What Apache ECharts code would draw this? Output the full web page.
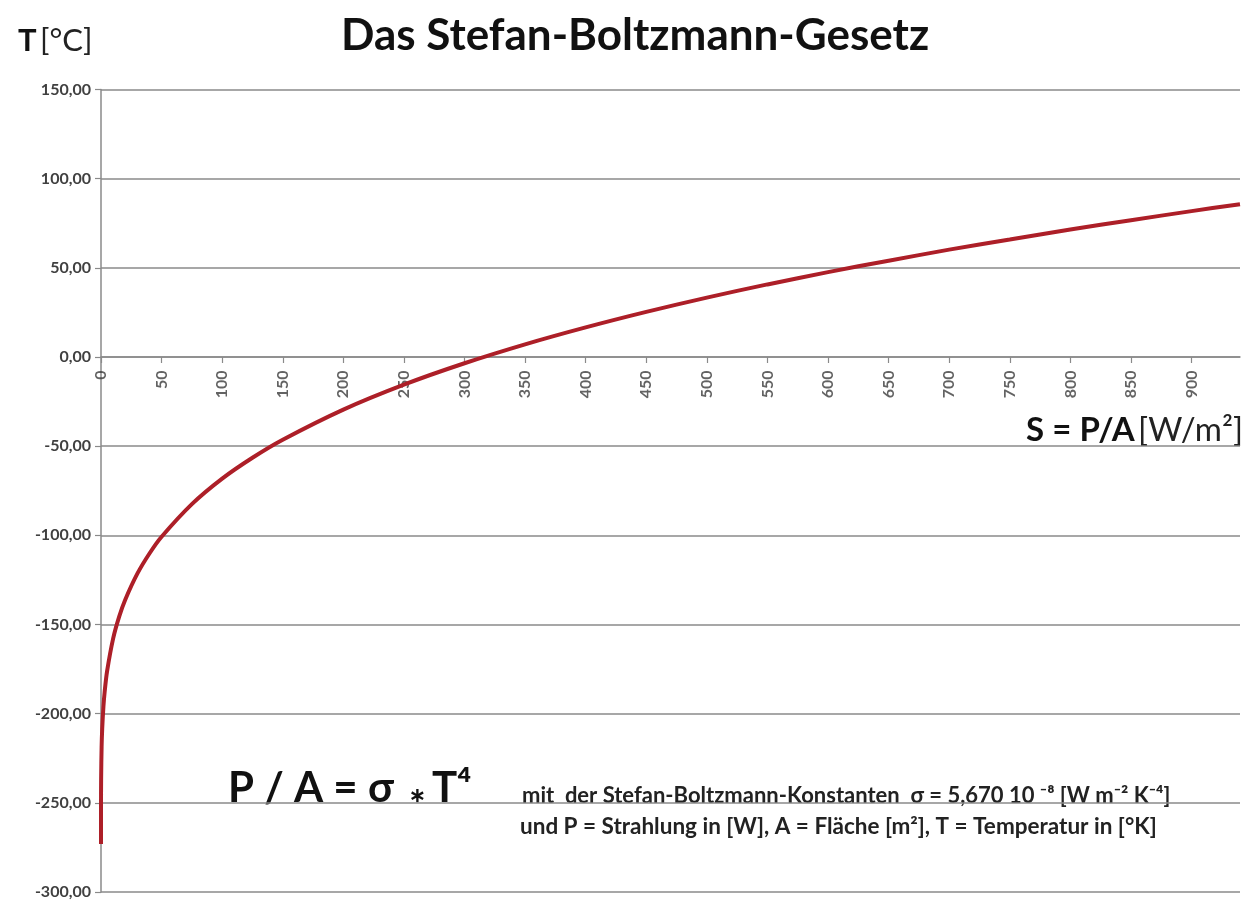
<!DOCTYPE html>
<html>
<head>
<meta charset="utf-8">
<script src="https://cdn.jsdelivr.net/npm/echarts@6/dist/echarts.min.js"></script>
<style>
html,body{margin:0;padding:0;background:#fff;}
#chart{width:1249px;height:902px;}
</style>
</head>
<body>
<div id="chart"></div>
<script>
// Radiation flux S = P/A [W/m²] (x) and temperature T [°C] (y)
const fluxValues = [0, 0.001, 0.01, 0.1, 0.5, 1, 2, 3, 5, 10, 15, 20, 30, 40, 50, 75, 100, 125, 150, 200, 250, 300, 350, 400, 450, 500, 550, 600, 650, 700, 750, 800, 850, 900, 940];
const tempValues = [-273.15, -261.6, -252.7, -236.7, -218.7, -208.4, -196.1, -187.9, -176.3, -157.9, -145.6, -136.1, -121.5, -110.2, -100.8, -82.5, -68.2, -56.5, -46.4, -29.5, -15.5, -3.5, 7.1, 16.6, 25.3, 33.3, 40.7, 47.6, 54.0, 60.2, 65.9, 71.5, 76.7, 81.8, 85.7];
const xTicks = [0, 50, 100, 150, 200, 250, 300, 350, 400, 450, 500, 550, 600, 650, 700, 750, 800, 850, 900];
const yTicks = [-300, -250, -200, -150, -100, -50, 0, 50, 100, 150];

const chart = echarts.init(document.getElementById('chart'), null, {renderer: 'canvas'});
const seriesData = fluxValues.map((s, i) => [s, tempValues[i]]);
const tickLabelData = xTicks.map(v => [v, 0]);
const FONT = 'Lato, "Open Sans", sans-serif';

chart.setOption({
  backgroundColor: '#ffffff',
  animation: false,
  grid: {left: 101, right: 9, top: 89.5, bottom: 10, containLabel: false, outerBoundsMode: 'none'},
  xAxis: {
    type: 'value',
    min: 0,
    max: 940,
    interval: 50,
    axisLine: {show: true, onZero: true, lineStyle: {color: '#8a8a8a', width: 1.5}},
    axisTick: {show: true, length: 6, customValues: xTicks, lineStyle: {color: '#8a8a8a', width: 1.2}},
    axisLabel: {show: false},
    splitLine: {show: false}
  },
  yAxis: {
    type: 'value',
    min: -300,
    max: 150,
    interval: 50,
    axisLine: {show: true, onZero: false, lineStyle: {color: '#8a8a8a', width: 1.5}},
    axisTick: {show: true, length: 6, lineStyle: {color: '#8a8a8a', width: 1.2}},
    axisLabel: {
      margin: 10,
      fontSize: 16,
      fontWeight: 'bold',
      color: '#404040',
      fontFamily: FONT,
      formatter: v => v.toFixed(2).replace('.', ',')
    },
    splitLine: {show: true, lineStyle: {color: '#8a8a8a', width: 1.5}}
  },
  series: [{
    type: 'line',
    data: seriesData,
    smooth: 0.3,
    symbol: 'none',
    lineStyle: {color: '#ad1f28', width: 4},
    z: 5
  }, {
    // x-axis tick labels placed on the zero line
    type: 'scatter',
    data: tickLabelData,
    symbolSize: 1,
    itemStyle: {color: 'rgba(0,0,0,0)'},
    silent: true,
    clip: false,
    z: 3,
    label: {
      show: true,
      position: 'bottom',
      distance: 13,
      rotate: 90,
      align: 'right',
      verticalAlign: 'middle',
      fontSize: 16,
      fontWeight: 700,
      color: '#3c3c3c',
      fontFamily: FONT,
      formatter: p => String(p.value[0])
    },
    labelLayout: {hideOverlap: false}
  }],
  graphic: [
    {type: 'text', left: 341, top: 14, style: {text: 'Das Stefan-Boltzmann-Gesetz', font: 'bold 44px ' + FONT, fill: '#111'}},
    {type: 'text', left: 18, top: 25.5, style: {
      text: '{b|T} {n|[°C]}',
      rich: {b: {font: 'bold 31px ' + FONT, fill: '#111'}, n: {font: '31px ' + FONT, fill: '#222'}}
    }},
    {type: 'text', right: 6, top: 414, style: {
      text: '{b|S = P/A} {n|[W/m²]}',
      rich: {b: {font: 'bold 33px ' + FONT, fill: '#111'}, n: {font: '33px ' + FONT, fill: '#222'}}
    }},
    {type: 'text', left: 228, top: 767, style: {text: 'P / A = σ', font: 'bold 42px ' + FONT, fill: '#111'}},
    {type: 'text', left: 409, top: 786, style: {text: '∗', font: 'bold 20px ' + FONT, fill: '#111'}},
    {type: 'text', left: 432, top: 767, style: {text: 'T⁴', font: 'bold 42px ' + FONT, fill: '#111'}},
    {type: 'text', left: 522, top: 784.5, style: {text: 'mit  der Stefan-Boltzmann-Konstanten  σ = 5,670 10 ⁻⁸ [W m⁻² K⁻⁴]', font: 'bold 22px ' + FONT, fill: '#222'}},
    {type: 'text', left: 520, top: 815.5, style: {text: 'und P = Strahlung in [W], A = Fläche [m²], T = Temperatur in [°K]', font: 'bold 22.5px ' + FONT, fill: '#222'}}
  ]
});
</script>
</body>
</html>
